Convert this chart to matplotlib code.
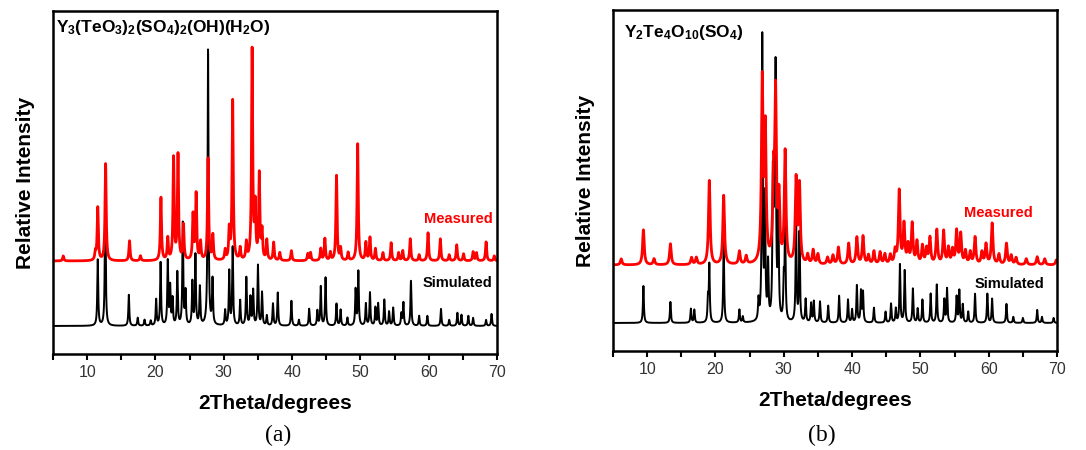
import matplotlib.pyplot as plt
import numpy as np

plt.rcParams['font.family'] = ['Liberation Sans', 'DejaVu Sans']
plt.rcParams['mathtext.fontset'] = 'custom'
plt.rcParams['mathtext.rm'] = 'Liberation Sans:bold'
plt.rcParams['mathtext.it'] = 'Liberation Sans:bold'
plt.rcParams['mathtext.bf'] = 'Liberation Sans:bold'

# (a) Y3(TeO3)2(SO4)2(OH)(H2O) -- peak positions (2theta) and heights
sim_a_pos = [11.55, 12.65, 16.1, 17.4, 18.4, 19.3, 20.1, 20.75, 21.8, 22.15, 22.5, 23.2,
             24.0, 24.4, 25.4, 25.85, 26.5, 27.7, 28.35, 30.2, 30.8, 31.3, 32.4, 33.3,
             33.9, 34.3, 35.0, 35.6, 36.3, 37.2, 37.9, 39.9, 41.0, 42.5, 43.7, 44.2,
             44.9, 46.5, 47.1, 48.1, 49.3, 49.7, 50.8, 51.4, 52.2, 52.6, 53.5, 54.2,
             54.8, 56.0, 56.3, 57.4, 58.6, 59.8, 61.8, 63.0, 64.2, 64.8, 65.8, 66.5,
             68.4, 69.2]
sim_a_int = [66, 131, 31, 8, 6, 5, 26, 63, 64, 38, 26, 53,
             102, 33, 43, 70, 38, 276, 45, 15, 54, 78, 25, 48,
             28, 35, 60, 33, 10, 22, 33, 25, 6, 17, 15, 39,
             48, 22, 16, 8, 36, 54, 22, 33, 18, 22, 26, 14,
             18, 12, 23, 45, 10, 10, 17, 6, 13, 11, 10, 8,
             6, 12]
meas_a_pos = [6.5, 11.2, 11.55, 12.7, 16.2, 17.8, 20.8, 21.8, 22.65, 23.3, 24.1, 25.5,
              25.95, 26.6, 27.7, 28.4, 30.2, 30.8, 31.3, 32.4, 33.3, 34.15, 34.6, 35.2,
              35.6, 36.3, 37.3, 38.2, 39.9, 42.3, 42.7, 44.2, 44.8, 45.6, 46.5, 47.1,
              48.2, 49.6, 50.8, 51.4, 52.2, 53.3, 54.5, 55.6, 56.2, 57.3, 58.6, 59.9,
              61.7, 63.0, 64.1, 65.1, 66.5, 67.0, 68.4, 69.6]
meas_a_int = [5, 8, 53, 97, 20, 5, 63, 22, 102, 105, 35, 45,
              66, 18, 102, 25, 10, 30, 160, 12, 17, 210, 52, 85,
              28, 20, 18, 8, 10, 7, 8, 12, 22, 8, 85, 12,
              8, 117, 18, 23, 12, 8, 18, 8, 10, 22, 6, 28,
              22, 6, 16, 7, 9, 8, 19, 5]

# (b) Y2Te4O10(SO4)
sim_b_pos = [9.45, 13.4, 16.4, 16.9, 18.9, 19.1, 21.2, 23.5, 24.0, 26.3, 26.85, 27.25,
             27.7, 28.4, 28.6, 28.8, 29.2, 30.0, 30.2, 31.8, 32.3, 33.2, 34.0, 34.4,
             35.3, 36.5, 38.1, 39.4, 40.0, 40.7, 41.3, 41.6, 43.2, 44.9, 45.7, 46.4,
             47.0, 47.7, 48.9, 49.6, 50.3, 51.5, 52.4, 53.5, 53.9, 55.3, 55.7, 56.2,
             57.0, 58.0, 59.8, 60.5, 62.6, 63.6, 65.0, 67.1, 67.8, 69.5]
sim_b_int = [37, 21, 14, 13, 23, 57, 83, 13, 6, 20, 284, 120,
             56, 133, 113, 239, 123, 38, 100, 106, 89, 23, 19, 21,
             21, 17, 27, 23, 13, 37, 31, 30, 15, 11, 19, 14,
             58, 52, 34, 14, 23, 29, 38, 23, 34, 26, 32, 18,
             11, 29, 29, 24, 19, 6, 5, 13, 6, 5]
meas_b_pos = [6.2, 9.45, 11.0, 13.4, 16.5, 17.2, 19.1, 21.2, 23.5, 24.5, 26.85, 27.3,
              28.5, 28.8, 29.3, 30.2, 31.8, 32.3, 33.5, 34.3, 35.0, 36.4, 37.2, 38.0,
              39.5, 40.7, 41.6, 42.4, 43.2, 44.1, 44.8, 45.6, 46.3, 46.9, 47.6, 48.2,
              48.8, 49.5, 50.3, 50.9, 51.4, 52.4, 53.4, 54.1, 54.7, 55.3, 55.9, 56.6,
              57.3, 58.0, 59.0, 59.6, 60.5, 61.5, 62.6, 63.3, 64.0, 65.5, 67.1, 68.2,
              69.9]
meas_b_int = [6, 35, 6, 21, 7, 7, 84, 69, 13, 8, 180, 130,
              77, 163, 62, 111, 83, 77, 9, 14, 10, 7, 9, 17,
              21, 27, 28, 9, 13, 12, 10, 9, 13, 73, 39, 18,
              40, 22, 18, 15, 26, 34, 33, 16, 14, 33, 30, 13,
              12, 27, 12, 20, 41, 10, 21, 9, 7, 6, 8, 6,
              5]

tt = np.linspace(5, 70, 8000)


def pattern(pos, inten, hw, base):
    y = np.full_like(tt, base, dtype=float)
    for p, h in zip(pos, inten):
        y += h * hw**2 / ((tt - p)**2 + hw**2)
    return y


W, H = 1086, 450
fig = plt.figure(figsize=(W / 100, H / 100), dpi=100)

# axes boxes in pixels: left, right, top, bottom
boxes = [(53, 497, 11, 354), (613, 1057, 10, 351)]
axes = []
for l, r, t, b in boxes:
    axes.append(fig.add_axes([l / W, 1 - b / H, (r - l) / W, (b - t) / H]))

panels = [
    (sim_a_pos, sim_a_int, meas_a_pos, meas_a_int, 28, 93, 0.1,
     r'Y$_3$(TeO$_3$)$_2$(SO$_4$)$_2$(OH)(H$_2$O)', 56, 28, 219, 283, 493, 492),
    (sim_b_pos, sim_b_int, meas_b_pos, meas_b_int, 28, 86, 0.14,
     r'Y$_2$Te$_4$O$_{10}$(SO$_4$)', 624, 32, 213, 284, 1033, 1044),
]

for ax, box, p in zip(axes, boxes, panels):
    sp, si, mp, mi, sb, mb, mhw, title, tx, ty, my, sy, mx, sx = p
    l, r, t, b = box
    ax.plot(tt, pattern(sp, si, 0.08, sb), color='black', lw=1.4)
    ax.plot(tt, pattern(mp, mi, mhw, mb), color='#ff0000', lw=2.0)
    ax.set_xlim(5, 70)
    ax.set_ylim(0, b - t)
    ax.set_yticks([])
    ax.set_xticks(range(10, 71, 10))
    ax.set_xticks(range(5, 71, 10), minor=True)
    ax.tick_params(axis='x', which='both', length=4, width=1.5, labelsize=11.5,
                   labelcolor='#333333', pad=4)
    for s in ax.spines.values():
        s.set_linewidth(1.8)
    ax.set_xlabel('2Theta/degrees', fontsize=15, fontweight='bold', labelpad=10)
    ax.set_ylabel('Relative Intensity', fontsize=15, fontweight='bold', labelpad=13)

    def frac(px, py):
        return (px - l) / (r - l), 1 - (py - t) / (b - t)

    ax.text(*frac(tx, ty), title, transform=ax.transAxes, fontsize=12.5,
            fontweight='bold', va='center', ha='left')
    ax.text(*frac(mx, my), 'Measured', transform=ax.transAxes,
            color='#ff0000', fontsize=10.5, fontweight='bold', ha='right', va='center')
    ax.text(*frac(sx, sy), 'Simulated', transform=ax.transAxes,
            color='black', fontsize=10.5, fontweight='bold', ha='right', va='center')

fig.text(278 / W, 1 - 435 / H, '(a)', family='Liberation Serif', fontsize=17,
         ha='center', va='center')
fig.text(822 / W, 1 - 435 / H, '(b)', family='Liberation Serif', fontsize=17,
         ha='center', va='center')

fig.savefig('out.png', dpi=100)
